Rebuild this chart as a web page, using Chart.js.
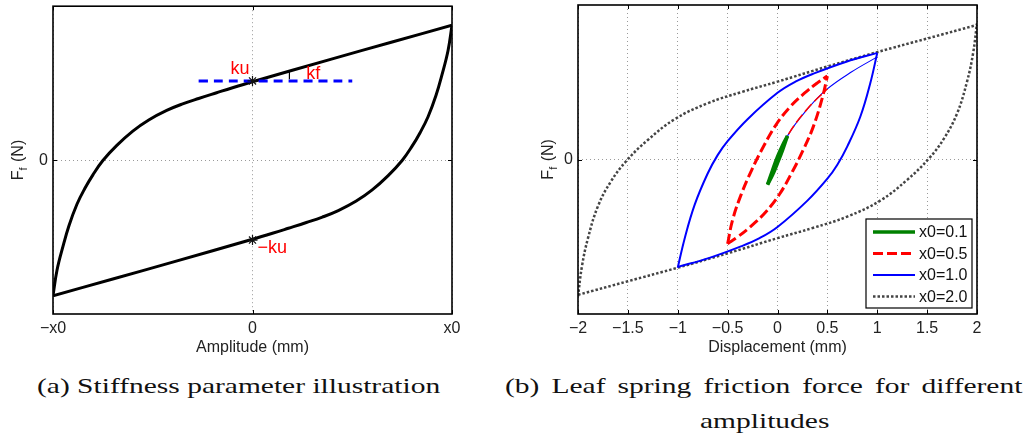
<!DOCTYPE html>
<html>
<head>
<meta charset="utf-8">
<script src="https://cdn.jsdelivr.net/npm/chart.js@4.4.1/dist/chart.umd.min.js"></script>
<style>
  html, body { margin: 0; padding: 0; background: #fff; }
  body { width: 1032px; height: 439px; position: relative; overflow: hidden; }
  .box { position: absolute; top: 0; height: 360px; }
  #boxA { left: 0; width: 470px; }
  #boxB { left: 520px; width: 512px; }
  .cap { position: absolute; font-family: "Liberation Serif", "DejaVu Serif", serif; font-size: 21px;
         color: #111; white-space: nowrap; line-height: 24px; transform-origin: 0 50%; }
</style>
</head>
<body>
<div class="box" id="boxA"><canvas id="chartA"></canvas></div>
<div class="box" id="boxB"><canvas id="chartB"></canvas></div>
<div class="cap" id="capA" style="left:37px; top:374px;">(a) Stiffness parameter illustration</div>
<div class="cap" id="capB1" style="left:505px; top:374px;">(b) Leaf spring friction force for different</div>
<div class="cap" id="capB2" style="left:697px; top:409px;">amplitudes</div>

<script>
const FONT = '"Liberation Sans", Arial, Helvetica, sans-serif';

// ---- (a) stiffness illustration, x in units of x0, force in units of ku
const aUpperX = [-1.0, -0.98, -0.95, -0.92, -0.88, -0.84, -0.80, -0.75, -0.68, -0.60, -0.52, -0.43, -0.35, -0.27, -0.18, -0.10, 0, 0.4, 0.7, 1.0];
const aUpperY = [-1.70, -1.38, -1.08, -0.82, -0.55, -0.35, -0.18, 0.0, 0.19, 0.37, 0.51, 0.63, 0.712, 0.78, 0.852, 0.915, 0.99, 1.278, 1.49, 1.70];
const aLowerX = [-1.0, -0.7, -0.4, 0, 0.10, 0.18, 0.27, 0.35, 0.43, 0.52, 0.60, 0.68, 0.75, 0.80, 0.84, 0.88, 0.92, 0.95, 0.98, 1.0];
const aLowerY = [-1.70, -1.49, -1.278, -0.99, -0.915, -0.852, -0.78, -0.712, -0.63, -0.51, -0.37, -0.19, 0.0, 0.18, 0.35, 0.55, 0.82, 1.08, 1.38, 1.70];
const kfLineX = [-0.27, 0.5];
const kfLineY = [1.0, 1.0];
const kfArcX = [0.185, 0.185];
const kfArcY = [1.02, 1.12];
const starX = [0, 0];
const starY = [1.0, -1.0];
const aTicksX = [-1, 0, 1];
const aTickLabels = ['\u2212x0', '0', 'x0'];
const noteText = ['ku', 'kf', '\u2212ku'];
const noteX = [-0.015, 0.27, 0.025];
const noteY = [1.09, 1.025, -1.16];
const noteAlign = ['right', 'left', 'left'];

// ---- (b) friction force for different amplitudes
const bUp01X = [-0.1, -0.05, 0, 0.05, 0.1];
const bUp01Y = [-0.31, -0.13, 0.04, 0.18, 0.30];
const bLo01X = [-0.1, -0.05, 0, 0.05, 0.1];
const bLo01Y = [-0.31, -0.19, -0.04, 0.12, 0.30];

const bUp05X = [-0.5, -0.45, -0.36, -0.26, -0.15, -0.02, 0.12, 0.27, 0.40, 0.5];
const bUp05Y = [-1.05, -0.75, -0.42, -0.13, 0.145, 0.43, 0.655, 0.835, 0.965, 1.05];
const bLo05X = [-0.5, -0.40, -0.27, -0.12, 0.02, 0.15, 0.26, 0.36, 0.45, 0.5];
const bLo05Y = [-1.05, -0.965, -0.835, -0.655, -0.43, -0.145, 0.13, 0.42, 0.78, 1.05];
const bVir05X = [0, 0.1, 0.3, 0.5];
const bVir05Y = [0, 0.30, 0.64, 0.89];

const bUp1X = [-1.0, -0.93, -0.83, -0.70, -0.60, -0.50, -0.30, 0, 0.18, 0.36, 0.69, 1.0];
const bUp1Y = [-1.35, -0.98, -0.56, -0.17, 0.06, 0.235, 0.51, 0.84, 0.98, 1.08, 1.23, 1.34];
const bLo1X = [-1.0, -0.69, -0.36, -0.18, 0, 0.30, 0.50, 0.60, 0.70, 0.83, 0.93, 1.0];
const bLo1Y = [-1.34, -1.23, -1.08, -0.98, -0.84, -0.51, -0.235, -0.06, 0.17, 0.54, 0.96, 1.34];
const bVir1X = [0, 0.105, 0.31, 0.49, 0.74, 1.0];
const bVir1Y = [0, 0.31, 0.65, 0.88, 1.10, 1.29];

const bUp2X = [-2.0, -1.96, -1.90, -1.80, -1.67, -1.52, -1.30, -1.03, -0.70, -0.36, 0, 0.5, 1.0, 1.5, 2.0];
const bUp2Y = [-1.71, -1.33, -0.98, -0.58, -0.27, -0.02, 0.25, 0.51, 0.71, 0.85, 0.98, 1.17, 1.35, 1.52, 1.69];
const bLo2X = [-2.0, -1.5, -1.0, -0.5, 0, 0.36, 0.70, 1.03, 1.30, 1.52, 1.67, 1.80, 1.90, 1.96, 2.0];
const bLo2Y = [-1.69, -1.52, -1.35, -1.17, -0.98, -0.85, -0.71, -0.51, -0.25, 0.02, 0.27, 0.58, 0.98, 1.33, 1.71];

const bTicksX = [-2, -1.5, -1, -0.5, 0, 0.5, 1, 1.5, 2];
const legendLabels = ['x0=0.1', 'x0=0.5', 'x0=1.0', 'x0=2.0'];
const yTicks = [0];
const yMin = -1.93, yMax = 1.94;

Chart.defaults.font.family = FONT;
Chart.defaults.animation = false;

function pts(xs, ys) {
  return xs.map((x, i) => ({ x: x, y: ys[i] }));
}

function curve(xs, ys, style) {
  return Object.assign({
    data: pts(xs, ys),
    showLine: true,
    pointRadius: 0,
    fill: false,
    tension: 0.4
  }, style);
}

function axisX(min, max, ticks, labelFn, title) {
  return {
    type: 'linear', min: min, max: max,
    afterBuildTicks: (s) => { s.ticks = ticks.map((v) => ({ value: v })); },
    ticks: { callback: labelFn, color: '#222', font: { size: 16 }, padding: 5, maxRotation: 0, autoSkip: false },
    grid: { color: '#9a9a9a', lineWidth: 1, drawTicks: false },
    border: { display: false, dash: [1, 3] },
    title: { display: true, text: title, color: '#222', font: { size: 16 }, padding: { top: 1, bottom: 3 } },
    afterFit: (s) => { s.height = 46; s.paddingLeft = 0; s.paddingRight = 0; }
  };
}

function axisY(width) {
  return {
    type: 'linear', min: yMin, max: yMax,
    afterBuildTicks: (s) => { s.ticks = yTicks.map((v) => ({ value: v })); },
    ticks: { color: '#222', font: { size: 16 }, padding: 5 },
    grid: { color: '#9a9a9a', lineWidth: 1, drawTicks: false },
    border: { display: false, dash: [1, 3] },
    afterFit: (s) => { s.width = width; s.paddingTop = 0; s.paddingBottom = 0; }
  };
}

// box, inward tick marks and the F_f (N) title
const frame = {
  id: 'frame',
  afterDraw(chart, args, opts) {
    const ctx = chart.ctx;
    const a = chart.chartArea;
    const sx = chart.scales.x, sy = chart.scales.y;
    ctx.save();
    ctx.strokeStyle = '#000';
    ctx.lineWidth = 1;
    sx.ticks.forEach((t) => {
      const px = Math.round(sx.getPixelForValue(t.value)) + 0.5;
      ctx.beginPath();
      ctx.moveTo(px, a.bottom); ctx.lineTo(px, a.bottom - 4);
      ctx.moveTo(px, a.top); ctx.lineTo(px, a.top + 4);
      ctx.stroke();
    });
    sy.ticks.forEach((t) => {
      const py = Math.round(sy.getPixelForValue(t.value)) + 0.5;
      ctx.beginPath();
      ctx.moveTo(a.left, py); ctx.lineTo(a.left + 4, py);
      ctx.moveTo(a.right, py); ctx.lineTo(a.right - 4, py);
      ctx.stroke();
    });
    ctx.lineWidth = 1.6;
    ctx.strokeRect(a.left, a.top, a.right - a.left, a.bottom - a.top);

    // y title with subscript
    ctx.translate(a.left - opts.titleOffset, sy.getPixelForValue(0));
    ctx.rotate(-Math.PI / 2);
    ctx.fillStyle = '#222';
    ctx.textBaseline = 'alphabetic';
    ctx.font = '16px ' + FONT;
    const wF = ctx.measureText('F').width;
    ctx.font = '11px ' + FONT;
    const wf = ctx.measureText('f').width;
    ctx.font = '16px ' + FONT;
    const wN = ctx.measureText(' (N)').width;
    let x0 = -(wF + wf + wN) / 2;
    ctx.textAlign = 'left';
    ctx.fillText('F', x0, 6);
    ctx.font = '11px ' + FONT;
    ctx.fillText('f', x0 + wF, 10);
    ctx.font = '16px ' + FONT;
    ctx.fillText(' (N)', x0 + wF + wf + 1, 6);
    ctx.restore();
  }
};

const notes = {
  id: 'notes',
  afterDatasetsDraw(chart, args, opts) {
    if (!opts.text) return;
    const ctx = chart.ctx;
    const sx = chart.scales.x, sy = chart.scales.y;
    ctx.save();
    ctx.fillStyle = '#ff0000';
    ctx.font = '18px ' + FONT;
    ctx.textBaseline = 'alphabetic';
    opts.text.forEach((t, i) => {
      ctx.textAlign = opts.align[i];
      ctx.fillText(t, sx.getPixelForValue(opts.x[i]), sy.getPixelForValue(opts.y[i]));
    });
    ctx.restore();
  }
};

const legendBox = {
  id: 'legendBox',
  afterDraw(chart, args, opts) {
    if (!opts.show) return;
    const ctx = chart.ctx;
    const items = chart.data.datasets.filter((d) => d.legendLabel);
    ctx.save();
    ctx.fillStyle = '#fff';
    ctx.fillRect(opts.x, opts.y, opts.w, opts.h);
    ctx.strokeStyle = '#000';
    ctx.lineWidth = 1.2;
    ctx.strokeRect(opts.x, opts.y, opts.w, opts.h);
    items.forEach((d, i) => {
      const y = opts.y + opts.row0 + i * opts.step;
      ctx.strokeStyle = d.borderColor;
      ctx.lineWidth = d.borderWidth;
      ctx.setLineDash(d.borderDash || []);
      ctx.beginPath();
      ctx.moveTo(opts.x + 7, y);
      ctx.lineTo(opts.x + 49, y);
      ctx.stroke();
      ctx.setLineDash([]);
      ctx.fillStyle = '#111';
      ctx.font = '16px ' + FONT;
      ctx.textBaseline = 'middle';
      ctx.textAlign = 'left';
      ctx.fillText(d.legendLabel, opts.x + 53, y + 1);
    });
    ctx.restore();
  }
};

new Chart(document.getElementById('chartA'), {
  type: 'scatter',
  data: {
    datasets: [
      { data: pts(starX, starY), showLine: false, pointStyle: 'star', pointRadius: 5,
        borderColor: '#111', pointBorderWidth: 1.2, backgroundColor: '#111' },
      curve(kfArcX, kfArcY, { borderColor: '#000', borderWidth: 1.2 }),
      curve(kfLineX, kfLineY, { borderColor: '#0000ff', borderWidth: 3, borderDash: [9, 6] }),
      curve(aUpperX, aUpperY, { borderColor: '#000', borderWidth: 3 }),
      curve(aLowerX, aLowerY, { borderColor: '#000', borderWidth: 3 })
    ]
  },
  options: {
    responsive: true,
    maintainAspectRatio: false,
    layout: { padding: { left: 0, right: 18, top: 5, bottom: 0 } },
    scales: {
      x: axisX(-1, 1, aTicksX, (v) => aTickLabels[aTicksX.indexOf(v)], 'Amplitude (mm)'),
      y: axisY(53)
    },
    plugins: {
      legend: { display: false },
      tooltip: { enabled: false },
      frame: { titleOffset: 36 },
      notes: { text: noteText, x: noteX, y: noteY, align: noteAlign },
      legendBox: { show: false }
    }
  },
  plugins: [frame, notes, legendBox]
});

const green = { borderColor: '#008000', borderWidth: 3.5 };
const red = { borderColor: '#ff0000', borderWidth: 3, borderDash: [10, 4] };
const blue = { borderColor: '#0000ff', borderWidth: 2 };
const dotted = { borderColor: '#444', borderWidth: 2.5, borderDash: [2.5, 2] };

new Chart(document.getElementById('chartB'), {
  type: 'scatter',
  data: {
    datasets: [
      curve(bUp01X, bUp01Y, Object.assign({ legendLabel: legendLabels[0] }, green)),
      curve(bLo01X, bLo01Y, green),
      curve(bUp05X, bUp05Y, Object.assign({ legendLabel: legendLabels[1] }, red)),
      curve(bLo05X, bLo05Y, red),
      curve(bVir05X, bVir05Y, { borderColor: '#ff0000', borderWidth: 1.5, borderDash: [10, 4] }),
      curve(bUp1X, bUp1Y, Object.assign({ legendLabel: legendLabels[2] }, blue)),
      curve(bLo1X, bLo1Y, blue),
      curve(bVir1X, bVir1Y, { borderColor: '#0000ff', borderWidth: 1.1 }),
      curve(bUp2X, bUp2Y, Object.assign({ legendLabel: legendLabels[3] }, dotted)),
      curve(bLo2X, bLo2Y, dotted)
    ]
  },
  options: {
    responsive: true,
    maintainAspectRatio: false,
    layout: { padding: { left: 0, right: 55, top: 5, bottom: 0 } },
    scales: {
      x: axisX(-2, 2, bTicksX, (v) => (v < 0 ? '\u2212' + Math.abs(v) : String(v)), 'Displacement (mm)'),
      y: axisY(58)
    },
    plugins: {
      legend: { display: false },
      tooltip: { enabled: false },
      frame: { titleOffset: 31 },
      notes: {},
      legendBox: { show: true, x: 346, y: 219, w: 106, h: 89, row0: 13, step: 21.5 }
    }
  },
  plugins: [frame, notes, legendBox]
});

// captions: stretch Times to the width of the Computer Modern original
function fitCaptions() {
  const a = document.getElementById('capA');
  const b1 = document.getElementById('capB1');
  const b2 = document.getElementById('capB2');
  const s = 403 / a.offsetWidth;
  a.style.transform = 'scaleX(' + s + ')';
  const spaces = b1.textContent.split(' ').length - 1;
  const extra = (517 / s - b1.offsetWidth) / spaces;
  b1.style.wordSpacing = extra + 'px';
  b1.style.transform = 'scaleX(' + s + ')';
  b2.style.transform = 'scaleX(' + s + ')';
  b2.style.left = (765 - b2.offsetWidth * s / 2) + 'px';
}
fitCaptions();
</script>
</body>
</html>
